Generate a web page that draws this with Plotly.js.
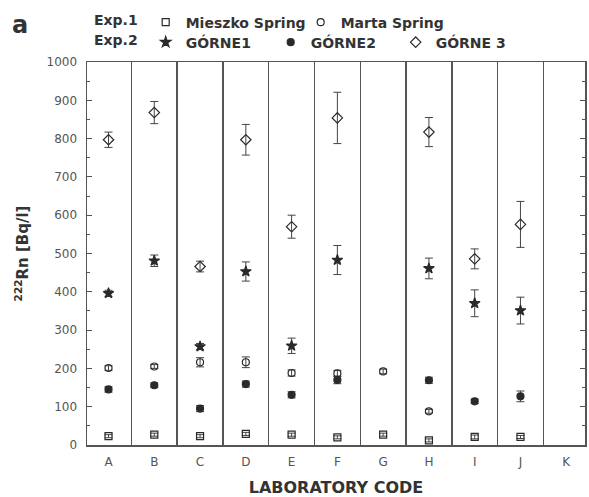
<!DOCTYPE html>
<html>
<head>
<meta charset="utf-8">
<script src="https://cdn.plot.ly/plotly-3.0.1.min.js"></script>
<style>html,body{margin:0;padding:0;background:#fff;}#chart{width:589px;height:497px;}</style>
</head>
<body>
<div id="chart"></div>
<script>
// Laboratory codes
var labs = ['A','B','C','D','E','F','G','H','I','J','K'];
// Exp.1
var mieszko    = [23, 27, 23, 29, 27, 20, 27, 12, 21, 21, null];
var mieszkoErr = [4, 4, 4, 4, 4, 4, 4, 4, 5, 4, null];
var marta      = [201, 205, 216, 216, 188, 187, 192, 88, null, null, null];
var martaErr   = [6, 5, 12, 14, 8, 8, 6, 5, null, null, null];
// Exp.2
var gorne1     = [396, 481, 257, 453, 259, 483, null, 461, 370, 351, null];
var gorne1Err  = [8, 15, 8, 25, 20, 38, null, 27, 35, 35, null];
var gorne2     = [145, 156, 95, 159, 131, 170, null, 169, 114, 127, null];
var gorne2Err  = [7, 6, 8, 8, 8, 10, null, 8, 6, 14, null];
var gorne3     = [797, 868, 466, 797, 570, 854, null, 817, 486, 576, null];
var gorne3Err  = [20, 29, 14, 40, 30, 67, null, 38, 26, 60, null];
var yTicks = [0,100,200,300,400,500,600,700,800,900,1000];

var ink = '#2a2a2a';
var lineC = '#555555';
var FONT = 'DejaVu Sans, sans-serif';

function tr(name, y, err, symbol, size, legend) {
  return {
    type: 'scatter', mode: 'markers', name: name, x: labs, y: y,
    legend: legend,
    marker: {symbol: symbol, size: size, color: ink, line: {color: ink, width: 1.2}},
    error_y: {type: 'data', array: err, visible: true, color: '#444', thickness: 1, width: 4},
    cliponaxis: false
  };
}

var data = [
  tr('Mieszko Spring', mieszko, mieszkoErr, 'square-open', 7, 'legend'),
  tr('Marta Spring', marta, martaErr, 'circle-open', 7, 'legend'),
  tr('GÓRNE1', gorne1, gorne1Err, 'star', 8, 'legend2'),
  tr('GÓRNE2', gorne2, gorne2Err, 'circle', 7, 'legend2'),
  tr('GÓRNE 3', gorne3, gorne3Err, 'diamond-open', 8, 'legend2')
];

var L = 87, R = 585, T = 61.5, B = 445.5;
function px(x) { return (x - L) / (R - L); }
function py(y) { return (B - y) / (B - T); }

var legFont = {family: FONT, size: 14, color: '#333', weight: 'bold'};

var layout = {
  width: 589, height: 497,
  margin: {l: L, r: 589 - R, t: T, b: 497 - B, pad: 0},
  paper_bgcolor: '#fff', plot_bgcolor: '#fff',
  font: {family: FONT, color: '#555'},
  xaxis: {
    type: 'category', categoryorder: 'array', categoryarray: labs,
    range: [-0.47, 10.41], tickson: 'boundaries', ticks: '',
    showgrid: true, gridcolor: lineC, gridwidth: 1.5,
    showline: true, linecolor: lineC, linewidth: 1.5, mirror: true,
    zeroline: false, fixedrange: true,
    ticklabelstandoff: 5,
    tickfont: {family: FONT, size: 12, color: '#555'},
    title: {text: 'LABORATORY CODE', font: {family: FONT, size: 16, color: '#333', weight: 'bold'}, standoff: 14}
  },
  yaxis: {
    range: [0, 1000], tickvals: yTicks, ticks: 'inside', ticklen: 5, tickcolor: lineC, tickwidth: 1,
    minor: {dtick: 50, ticks: 'inside', ticklen: 3, tickcolor: lineC, showgrid: false},
    showgrid: false, zeroline: false,
    showline: true, linecolor: lineC, linewidth: 1.5, mirror: 'ticks',
    ticklabelstandoff: 6,
    tickfont: {family: FONT, size: 12, color: '#555'},
    title: {text: '<sup>222</sup>Rn [Bq/l]', font: {family: FONT, size: 15, color: '#333', weight: 'bold'}, standoff: 14}
  },
  showlegend: true,
  legend: {
    orientation: 'h', x: px(92), xanchor: 'left', y: py(22), yanchor: 'middle',
    title: {text: 'Exp.1', side: 'left', font: legFont},
    font: legFont, bgcolor: 'rgba(0,0,0,0)', borderwidth: 0,
    entrywidth: 110, itemclick: false, itemdoubleclick: false
  },
  legend2: {
    orientation: 'h', x: px(92), xanchor: 'left', y: py(42), yanchor: 'middle',
    title: {text: 'Exp.2', side: 'left', font: legFont},
    font: legFont, bgcolor: 'rgba(0,0,0,0)', borderwidth: 0,
    entrywidth: 80, itemclick: false, itemdoubleclick: false
  },
  annotations: [{
    text: 'a', xref: 'paper', yref: 'paper', x: px(20), y: py(24),
    xanchor: 'center', yanchor: 'middle', showarrow: false,
    font: {family: FONT, size: 24, color: '#333', weight: 'bold'}
  }]
};

Plotly.newPlot('chart', data, layout, {displayModeBar: false, staticPlot: true});
</script>
</body>
</html>
